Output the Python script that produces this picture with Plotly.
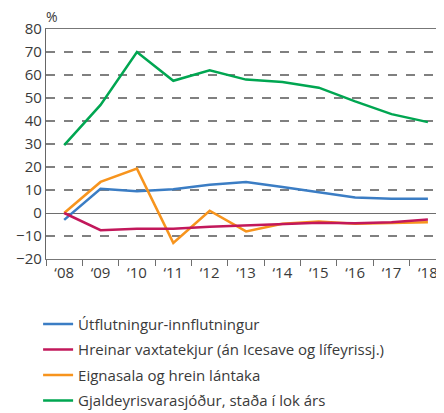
import plotly.graph_objects as go

years = ["‘08", "‘09", "‘10", "‘11", "‘12", "‘13", "‘14", "‘15", "‘16", "‘17", "‘18"]

utflutningur = [-3, 10.5, 9.5, 10.3, 12.3, 13.5, 11.3, 9, 6.7, 6.2, 6.2]
vaxtatekjur = [0, -7.5, -6.8, -6.8, -6, -5.5, -4.8, -4.2, -4.5, -4, -2.8]
eignasala = [0, 13.5, 19.3, -13, 1, -8, -4.7, -3.7, -4.7, -4.3, -4]
gjaldeyrisforði = [29.5, 47, 70, 57.5, 62, 58, 57, 54.5, 48.5, 43, 39.5]

names = [
    "Útflutningur-innflutningur",
    "Hreinar vaxtatekjur (án Icesave og lífeyrissj.)",
    "Eignasala og hrein lántaka",
    "Gjaldeyrisvarasjóður, staða í lok árs",
]
colors = ["#3b7dc4", "#c2185b", "#f7941d", "#00a651"]
series = [utflutningur, vaxtatekjur, eignasala, gjaldeyrisforði]

fig = go.Figure()
# green drawn first so the low lines sit on top, legend order kept by legendrank
draw_order = [3, 0, 2, 1]
for i in draw_order:
    fig.add_trace(go.Scatter(
        x=years, y=series[i], name=names[i], mode="lines",
        line=dict(color=colors[i], width=2.5),
        legendgroup=str(i), legendrank=i + 1,
    ))

# the page body has an 8px margin, so the figure is 8px smaller and shifted
fig.update_layout(
    width=436, height=405,
    margin=dict(l=38, r=3, t=21, b=154, autoexpand=False),
    paper_bgcolor="white", plot_bgcolor="white",
    font=dict(family="Open Sans", color="#3a3a3a"),
    showlegend=True,
    legend=dict(
        x=-0.02, y=-0.212, xanchor="left", yanchor="top",
        font=dict(size=15, color="#3a3a3a"),
        tracegroupgap=3, traceorder="grouped",
    ),
    annotations=[dict(
        text="%", x=0, y=1, xref="paper", yref="paper",
        xanchor="left", yanchor="bottom", xshift=-2, yshift=1,
        showarrow=False, font=dict(size=14, color="#3a3a3a"),
    )],
    shapes=[dict(
        type="line", xref="paper", yref="paper", x0=1, x1=1, y0=0, y1=1,
        line=dict(color="#333333", width=1.5),
    )],
)

fig.update_xaxes(
    type="category", range=[-0.5, 10.36], automargin=False,
    showline=True, linecolor="#777777", linewidth=1.4, mirror=True,
    ticks="outside", tickson="boundaries", ticklen=6, tickcolor="#6e6e6e",
    tickfont=dict(size=15), showgrid=False,
)
fig.update_yaxes(
    range=[-20, 80], tickvals=list(range(-20, 90, 10)), automargin=False,
    showline=True, linecolor="#666666", linewidth=1.4, mirror=False,
    ticks="", tickfont=dict(size=15),
    showgrid=True, gridcolor="#808080", gridwidth=1.8, griddash="dash",
    zeroline=True, zerolinecolor="#6e6e6e", zerolinewidth=1.4,
)

fig.write_html("out.html")
